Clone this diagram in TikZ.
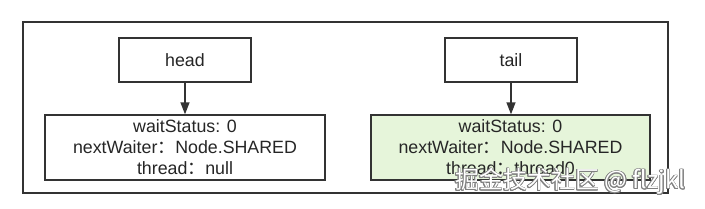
\documentclass[tikz,border=0pt]{standalone}
\usepackage{fontspec}
\setmainfont{Liberation Sans}
\newfontfamily\cjk{Noto Sans CJK SC}
\usepackage[copies]{contour}
\contourlength{0.7pt}
\usetikzlibrary{arrows.meta}
\definecolor{linec}{HTML}{333333}
\definecolor{greenfill}{HTML}{E6F5DA}
\newcommand{\fcolon}{{\cjk ：}}
\tikzset{
  box/.style={draw=linec, line width=1.4pt, rectangle, inner sep=0pt, align=center,
    font=\fontsize{17.8}{21}\selectfont, text=black!85},
  conn/.style={draw=linec, line width=1.4pt, -{Triangle[length=12pt,width=9pt]}},
}
\begin{document}
\begin{tikzpicture}[x=1pt,y=-1pt]
\useasboundingbox (0,0) rectangle (705,209);
\fill[white] (0,0) rectangle (705,209);
\node[box, minimum width=645pt, minimum height=171pt] (frame) at (345.5,107.5) {};
\node[box, minimum width=132pt, minimum height=44pt] (head) at (185,60) {head};
\node[box, minimum width=280pt, minimum height=65pt] (hnode) at (185,147.5)
  {waitStatus: 0\\nextWaiter\fcolon Node.SHARED\\thread\fcolon null};
\node[box, minimum width=132pt, minimum height=44pt] (tail) at (511,60) {tail};
\node[box, fill=greenfill, minimum width=279pt, minimum height=65pt] (tnode) at (510.5,147.5)
  {waitStatus: 0\\nextWaiter\fcolon Node.SHARED\\thread\fcolon thread0};
\draw[conn] (head) -- (hnode.north -| head.south);
\draw[conn] (tail) -- (tnode.north -| tail.south);
\node[anchor=west, inner sep=0pt, font=\cjk\fontsize{24}{26}\selectfont, text=white] (wm) at (455,182)
  {\contour{gray}{掘金技术社区 @ flzjkl}};
\end{tikzpicture}
\end{document}
